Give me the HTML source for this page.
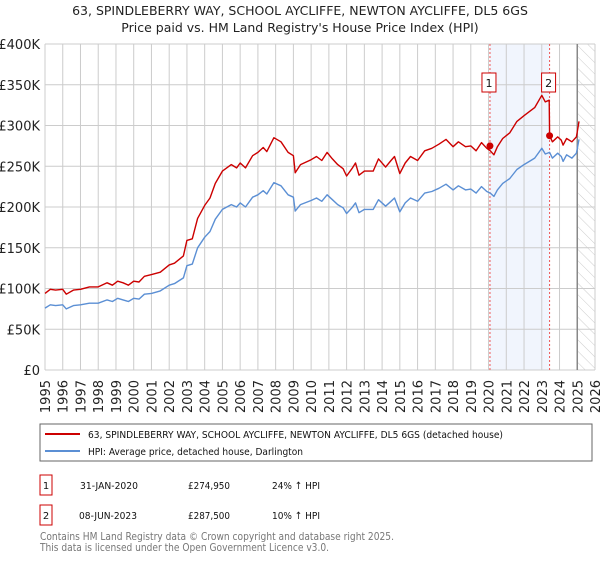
<!DOCTYPE html>
<html><head><meta charset="utf-8"><style>
body{margin:0;background:#fff;font-family:"Liberation Sans","DejaVu Sans",sans-serif;}
svg text{font-family:"DejaVu Sans","Liberation Sans",sans-serif;}
</style></head><body>
<svg id="chart" width="600" height="560" viewBox="0 0 600 560" xmlns="http://www.w3.org/2000/svg">
<defs><pattern id="hatch" patternUnits="userSpaceOnUse" width="8" height="8" patternTransform="rotate(-45)"><line x1="0" y1="0" x2="0" y2="8" stroke="#ccc" stroke-width="1"/></pattern></defs>
<text x="300" y="15" text-anchor="middle" font-size="12.5" fill="#222">63, SPINDLEBERRY WAY, SCHOOL AYCLIFFE, NEWTON AYCLIFFE, DL5 6GS</text>
<text x="300" y="32" text-anchor="middle" font-size="12.5" fill="#222">Price paid vs. HM Land Registry's House Price Index (HPI)</text>
<g id="grid"></g><g id="series"></g><g id="axes"></g>
<rect x="40" y="424" width="552" height="37" fill="#fff" stroke="#666"/>
<line x1="45" y1="434" x2="80" y2="434" stroke="#cc0000" stroke-width="2"/>
<text x="88" y="438" font-size="10" textLength="415" lengthAdjust="spacingAndGlyphs" fill="#111">63, SPINDLEBERRY WAY, SCHOOL AYCLIFFE, NEWTON AYCLIFFE, DL5 6GS (detached house)</text>
<line x1="45" y1="451" x2="80" y2="451" stroke="#5b8fd4" stroke-width="2"/>
<text x="88" y="455" font-size="10" textLength="215" lengthAdjust="spacingAndGlyphs" fill="#111">HPI: Average price, detached house, Darlington</text>
<g font-size="10" fill="#111">
<rect x="40" y="475" width="12" height="20" fill="#fff" stroke="#cc0000"/><text x="46" y="489" text-anchor="middle">1</text>
<text x="80" y="489" textLength="58" lengthAdjust="spacingAndGlyphs">31-JAN-2020</text><text x="188" y="489" textLength="42" lengthAdjust="spacingAndGlyphs">£274,950</text><text x="272" y="489" textLength="48" lengthAdjust="spacingAndGlyphs">24% ↑ HPI</text></g>
<g font-size="10" fill="#111">
<rect x="40" y="505" width="12" height="20" fill="#fff" stroke="#cc0000"/><text x="46" y="519" text-anchor="middle">2</text>
<text x="79" y="519" textLength="58" lengthAdjust="spacingAndGlyphs">08-JUN-2023</text><text x="188" y="519" textLength="42" lengthAdjust="spacingAndGlyphs">£287,500</text><text x="272" y="519" textLength="48" lengthAdjust="spacingAndGlyphs">10% ↑ HPI</text></g>
<text x="40" y="540" font-size="10.5" textLength="354" lengthAdjust="spacingAndGlyphs" fill="#777">Contains HM Land Registry data © Crown copyright and database right 2025.</text>
<text x="40" y="551" font-size="10.5" textLength="289" lengthAdjust="spacingAndGlyphs" fill="#777">This data is licensed under the Open Government Licence v3.0.</text>
</svg>
<script>
const hpiYears=[1995.0,1995.3,1995.6,1996.0,1996.2,1996.6,1997.0,1997.5,1998.0,1998.5,1998.8,1999.1,1999.4,1999.7,2000.0,2000.3,2000.6,2001.0,2001.5,2002.0,2002.3,2002.8,2003.0,2003.3,2003.6,2004.0,2004.3,2004.6,2005.0,2005.5,2005.8,2006.0,2006.3,2006.7,2007.0,2007.3,2007.5,2007.9,2008.3,2008.7,2009.0,2009.1,2009.4,2010.0,2010.3,2010.6,2010.9,2011.2,2011.5,2011.8,2012.0,2012.3,2012.5,2012.7,2013.0,2013.5,2013.8,2014.2,2014.5,2014.7,2015.0,2015.3,2015.6,2016.0,2016.4,2016.8,2017.2,2017.6,2018.0,2018.3,2018.7,2019.0,2019.3,2019.6,2019.9,2020.1,2020.3,2020.5,2020.8,2021.2,2021.6,2022.0,2022.3,2022.6,2023.0,2023.2,2023.44,2023.6,2023.9,2024.1,2024.2,2024.4,2024.7,2024.95,2025.1];
const hpiValues=[76,80,79,80,75,79,80,82,82,86,84,88,86,84,88,87,93,94,97,104,106,113,128,130,150,163,170,185,197,203,200,205,200,212,215,220,216,230,226,215,212,195,203,208,211,207,215,209,203,199,192,199,205,193,197,197,209,201,207,211,194,205,211,207,217,219,223,228,221,226,221,222,217,225,219,217,213,221,229,235,246,252,256,260,272,265,267,260,266,262,256,264,260,266,283];
const priceYears=[1995.0,1995.3,1995.6,1996.0,1996.2,1996.6,1997.0,1997.5,1998.0,1998.5,1998.8,1999.1,1999.4,1999.7,2000.0,2000.3,2000.6,2001.0,2001.5,2002.0,2002.3,2002.8,2003.0,2003.3,2003.6,2004.0,2004.3,2004.6,2005.0,2005.5,2005.8,2006.0,2006.3,2006.7,2007.0,2007.3,2007.5,2007.9,2008.3,2008.7,2009.0,2009.1,2009.4,2010.0,2010.3,2010.6,2010.9,2011.2,2011.5,2011.8,2012.0,2012.3,2012.5,2012.7,2013.0,2013.5,2013.8,2014.2,2014.5,2014.7,2015.0,2015.3,2015.6,2016.0,2016.4,2016.8,2017.2,2017.6,2018.0,2018.3,2018.7,2019.0,2019.3,2019.6,2019.9,2020.1,2020.3,2020.5,2020.8,2021.2,2021.6,2022.0,2022.3,2022.6,2023.0,2023.2,2023.42,2023.44,2023.6,2023.9,2024.1,2024.2,2024.4,2024.7,2024.95,2025.1];
const priceValues=[94,99,98,99,93,98,99,102,102,107,104,109,107,104,109,108,115,117,120,129,131,140,159,161,186,202,211,229,244,252,248,254,248,263,267,273,268,285,280,267,263,242,252,258,262,257,267,259,252,247,238,247,254,239,244,244,259,249,257,262,241,254,262,257,269,272,277,283,274,280,274,275,269,279,272,269,264,274,284,291,305,312,317,322,337,329,331,287.5,280,286,282,276,284,280,286,305];
const saleYears=[2020.08,2023.44];
const saleValues=[274.95,287.5];
const saleLabels=["1","2"];
const yTicks=[0,50,100,150,200,250,300,350,400];
const yTickLabels=["£0","£50K","£100K","£150K","£200K","£250K","£300K","£350K","£400K"];
const xTicks=[1995,1996,1997,1998,1999,2000,2001,2002,2003,2004,2005,2006,2007,2008,2009,2010,2011,2012,2013,2014,2015,2016,2017,2018,2019,2020,2021,2022,2023,2024,2025,2026];

const NS="http://www.w3.org/2000/svg";
const X0=45,X1=595,Y0=370,Y1=44;
const xs=y=>X0+(y-1995)/(2026-1995)*(X1-X0);
const ys=v=>Y0-v/400*(Y0-Y1);
function mk(tag,attrs,parent){const e=document.createElementNS(NS,tag);for(const k in attrs)e.setAttribute(k,attrs[k]);parent.appendChild(e);return e;}
const grid=document.getElementById('grid'),ser=document.getElementById('series'),ax=document.getElementById('axes');
const shade=mk('rect',{x:xs(saleYears[0]),y:Y1,width:xs(saleYears[1])-xs(saleYears[0]),height:Y0-Y1,fill:'#f1f5fd'},grid);


const hat=mk('rect',{x:xs(2025),y:Y1,width:X1-xs(2025),height:Y0-Y1,fill:'url(#hatch)'},grid);


yTicks.forEach((v,i)=>{
  const l=mk('line',{x1:X0,x2:X1,y1:ys(v),y2:ys(v),stroke:'#cccccc'},grid);
  
  
  const t=mk('text',{x:X0-5,y:ys(v)+5,'text-anchor':'end','font-size':'13',fill:'#222'},ax);
  t.textContent=yTickLabels[i];
  
  
});
xTicks.forEach(y=>{
  const l=mk('line',{x1:xs(y),x2:xs(y),y1:Y1,y2:Y0,stroke:'#cccccc'},grid);
  
  
  const t=mk('text',{x:xs(y),y:Y0+5,'text-anchor':'end','font-size':'13',fill:'#222',transform:`rotate(-90 ${xs(y)+5} ${Y0+5})`},ax);
  t.textContent=y;
  
  
});
const nowLine=mk('line',{x1:xs(2025),x2:xs(2025),y1:Y1,y2:Y0,stroke:'#888','stroke-width':1.5},grid);


saleYears.forEach((y,i)=>{
  const l=mk('line',{x1:xs(y),x2:xs(y),y1:Y1,y2:Y0,stroke:'#ee5555','stroke-dasharray':'2,2'},grid);
  
  
});
function path(xsArr,vals,color,name){
  const d=xsArr.map((y,i)=>(i?'L':'M')+xs(y).toFixed(1)+','+ys(vals[i]).toFixed(1)).join('');
  const p=mk('path',{d:d,fill:'none',stroke:color,'stroke-width':1.4,'stroke-linejoin':'round'},ser);
  
  
}
path(hpiYears,hpiValues,'#5b8fd4','hpi-line');
path(priceYears,priceValues,'#cc0000','price-paid-line');
saleYears.forEach((y,i)=>{
  const c=mk('circle',{cx:xs(y),cy:ys(saleValues[i]),r:3.5,fill:'#cc0000'},ser);
  
  
  const g=mk('g',{},ser);
  
  
  mk('rect',{x:xs(y)-8,y:73,width:14,height:19,fill:'#fff',stroke:'#cc0000'},g);
  const t=mk('text',{x:xs(y)-1,y:87,'text-anchor':'middle','font-size':'11',fill:'#111'},g);
  t.textContent=saleLabels[i];
});
</script>
</body></html>
